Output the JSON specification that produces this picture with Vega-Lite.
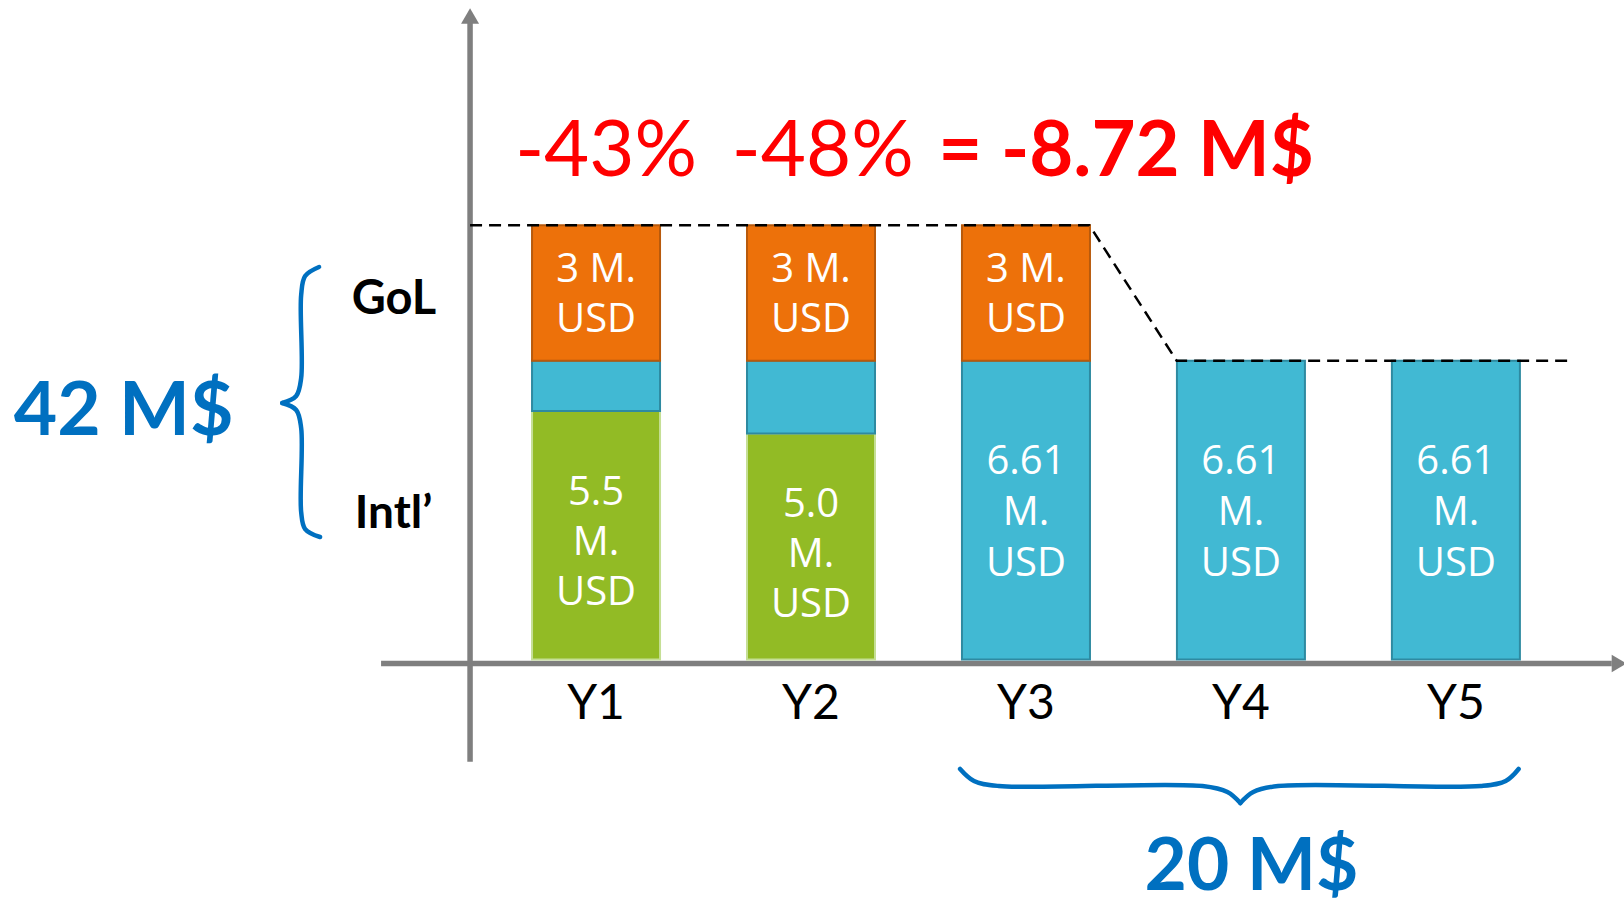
{
  "$schema": "https://vega.github.io/schema/vega-lite/v6.json",
  "width": 1624,
  "height": 906,
  "autosize": {"type": "none"},
  "padding": 0,
  "background": "white",
  "config": {"view": {"stroke": null}},
  "datasets": {
    "bars": [
      {"year": "Y1", "yi": 1, "seg": "Intl-1", "value": 5.5, "ord": 1, "label": "5.5\nM.\nUSD"},
      {"year": "Y1", "yi": 1, "seg": "Intl-2", "value": 1.11, "ord": 2, "label": ""},
      {"year": "Y1", "yi": 1, "seg": "GoL", "value": 3, "ord": 3, "label": "3 M.\nUSD"},
      {"year": "Y2", "yi": 2, "seg": "Intl-1", "value": 5.0, "ord": 1, "label": "5.0\nM.\nUSD"},
      {"year": "Y2", "yi": 2, "seg": "Intl-2", "value": 1.61, "ord": 2, "label": ""},
      {"year": "Y2", "yi": 2, "seg": "GoL", "value": 3, "ord": 3, "label": "3 M.\nUSD"},
      {"year": "Y3", "yi": 3, "seg": "Intl-2", "value": 6.61, "ord": 2, "label": "6.61\nM.\nUSD"},
      {"year": "Y3", "yi": 3, "seg": "GoL", "value": 3, "ord": 3, "label": "3 M.\nUSD"},
      {"year": "Y4", "yi": 4, "seg": "Intl-2", "value": 6.61, "ord": 2, "label": "6.61\nM.\nUSD"},
      {"year": "Y5", "yi": 5, "seg": "Intl-2", "value": 6.61, "ord": 2, "label": "6.61\nM.\nUSD"}
    ],
    "trend": [
      {"seq": 1, "x": 0.414, "y": 9.61},
      {"seq": 2, "x": 3.2945, "y": 9.61},
      {"seq": 3, "x": 3.701, "y": 6.61},
      {"seq": 4, "x": 5.519, "y": 6.61}
    ],
    "braces": [
      {"part": "L1", "seq": 1, "x": -0.2885, "y": 8.684},
      {"part": "L1", "seq": 2, "x": -0.3532, "y": 8.485},
      {"part": "L1", "seq": 3, "x": -0.3717, "y": 8.064},
      {"part": "L1", "seq": 4, "x": -0.3717, "y": 6.228},
      {"part": "L1", "seq": 5, "x": -0.3948, "y": 5.830},
      {"part": "L1", "seq": 6, "x": -0.4595, "y": 5.675},
      {"part": "L2", "seq": 1, "x": -0.4595, "y": 5.675},
      {"part": "L2", "seq": 2, "x": -0.3948, "y": 5.520},
      {"part": "L2", "seq": 3, "x": -0.3717, "y": 5.122},
      {"part": "L2", "seq": 4, "x": -0.3717, "y": 3.263},
      {"part": "L2", "seq": 5, "x": -0.3532, "y": 2.887},
      {"part": "L2", "seq": 6, "x": -0.2839, "y": 2.710},
      {"part": "B1", "seq": 1, "x": 2.6935, "y": -2.4226},
      {"part": "B1", "seq": 2, "x": 2.7582, "y": -2.688},
      {"part": "B1", "seq": 3, "x": 2.8738, "y": -2.7987},
      {"part": "B1", "seq": 4, "x": 3.8215, "y": -2.7987},
      {"part": "B1", "seq": 5, "x": 3.9371, "y": -2.9314},
      {"part": "B1", "seq": 6, "x": 3.9972, "y": -3.1748},
      {"part": "B2", "seq": 1, "x": 3.9972, "y": -3.1748},
      {"part": "B2", "seq": 2, "x": 4.0573, "y": -2.9314},
      {"part": "B2", "seq": 3, "x": 4.1729, "y": -2.7987},
      {"part": "B2", "seq": 4, "x": 5.1160, "y": -2.7987},
      {"part": "B2", "seq": 5, "x": 5.2316, "y": -2.688},
      {"part": "B2", "seq": 6, "x": 5.2917, "y": -2.4226}
    ]
  },
  "layer": [
    {
      "data": {"values": [{"axis": "y"}]},
      "mark": {"type": "rule", "color": "#7F7F7F", "strokeWidth": 5.5},
      "encoding": {
        "x": {"datum": 0.414, "type": "quantitative", "scale": {"domain": [-1.7494, 5.7587], "nice": false, "zero": false}, "axis": null},
        "y": {"datum": -2.261, "type": "quantitative", "scale": {"domain": [-5.4535, 14.5907], "nice": false, "zero": false}, "axis": null},
        "y2": {"datum": 14.1}
      }
    },
    {
      "data": {"values": [{"axis": "y"}]},
      "mark": {"type": "point", "shape": "triangle-up", "filled": true, "size": 324, "color": "#7F7F7F", "opacity": 1},
      "encoding": {
        "x": {"datum": 0.414, "type": "quantitative", "scale": {"domain": [-1.7494, 5.7587], "nice": false, "zero": false}, "axis": null},
        "y": {"datum": 14.237, "type": "quantitative", "scale": {"domain": [-5.4535, 14.5907], "nice": false, "zero": false}, "axis": null}
      }
    },
    {
      "data": {"values": [{"axis": "x"}]},
      "mark": {"type": "rule", "color": "#7F7F7F", "strokeWidth": 5.5},
      "encoding": {
        "x": {"datum": 0.0, "type": "quantitative", "scale": {"domain": [-1.7494, 5.7587], "nice": false, "zero": false}, "axis": null},
        "x2": {"datum": 5.725},
        "y": {"datum": -0.088, "type": "quantitative", "scale": {"domain": [-5.4535, 14.5907], "nice": false, "zero": false}, "axis": null}
      }
    },
    {
      "data": {"values": [{"axis": "x"}]},
      "mark": {"type": "point", "shape": "triangle-right", "filled": true, "size": 300, "color": "#7F7F7F", "opacity": 1},
      "encoding": {
        "x": {"datum": 5.7596, "type": "quantitative", "scale": {"domain": [-1.7494, 5.7587], "nice": false, "zero": false}, "axis": null},
        "y": {"datum": -0.088, "type": "quantitative", "scale": {"domain": [-5.4535, 14.5907], "nice": false, "zero": false}, "axis": null}
      }
    },
    {
      "data": {"name": "bars"},
      "transform": [
        {"stack": "value", "groupby": ["year"], "sort": [{"field": "ord", "order": "ascending"}], "as": ["v0", "v1"]}
      ],
      "mark": {"type": "bar", "width": 128, "strokeWidth": 2},
      "encoding": {
        "x": {"field": "yi", "type": "quantitative", "scale": {"domain": [-1.7494, 5.7587], "nice": false, "zero": false}, "axis": null},
        "y": {"field": "v0", "type": "quantitative", "scale": {"domain": [-5.4535, 14.5907], "nice": false, "zero": false}, "axis": null},
        "y2": {"field": "v1"},
        "fill": {"field": "seg", "type": "nominal", "scale": {"domain": ["Intl-1", "Intl-2", "GoL"], "range": ["#92BB25", "#41B9D3", "#ED710A"]}, "legend": null},
        "stroke": {"field": "seg", "type": "nominal", "scale": {"domain": ["Intl-1", "Intl-2", "GoL"], "range": ["#C5DF95", "#2E8AA1", "#B85A0C"]}, "legend": null}
      }
    },
    {
      "data": {"name": "bars"},
      "transform": [
        {"stack": "value", "groupby": ["year"], "sort": [{"field": "ord", "order": "ascending"}], "as": ["v0", "v1"]},
        {"filter": "datum.seg == 'GoL'"},
        {"fold": ["v0", "v1"], "as": ["edge", "pos"]}
      ],
      "mark": {"type": "text", "font": "Open Sans", "fontSize": 40, "lineHeight": 50, "lineBreak": "\n", "color": "white", "align": "center", "baseline": "middle", "dy": -23},
      "encoding": {
        "x": {"field": "yi", "type": "quantitative", "scale": {"domain": [-1.7494, 5.7587], "nice": false, "zero": false}, "axis": null},
        "y": {"aggregate": "mean", "field": "pos", "type": "quantitative", "scale": {"domain": [-5.4535, 14.5907], "nice": false, "zero": false}, "axis": null},
        "text": {"field": "label", "type": "nominal"},
        "detail": {"field": "seg", "type": "nominal"}
      }
    },
    {
      "data": {"name": "bars"},
      "transform": [
        {"stack": "value", "groupby": ["year"], "sort": [{"field": "ord", "order": "ascending"}], "as": ["v0", "v1"]},
        {"filter": "datum.seg == 'Intl-1'"},
        {"fold": ["v0", "v1"], "as": ["edge", "pos"]}
      ],
      "mark": {"type": "text", "font": "Open Sans", "fontSize": 40, "lineHeight": 50, "lineBreak": "\n", "color": "white", "align": "center", "baseline": "middle", "dy": -42},
      "encoding": {
        "x": {"field": "yi", "type": "quantitative", "scale": {"domain": [-1.7494, 5.7587], "nice": false, "zero": false}, "axis": null},
        "y": {"aggregate": "mean", "field": "pos", "type": "quantitative", "scale": {"domain": [-5.4535, 14.5907], "nice": false, "zero": false}, "axis": null},
        "text": {"field": "label", "type": "nominal"},
        "detail": {"field": "seg", "type": "nominal"}
      }
    },
    {
      "data": {"name": "bars"},
      "transform": [
        {"stack": "value", "groupby": ["year"], "sort": [{"field": "ord", "order": "ascending"}], "as": ["v0", "v1"]},
        {"filter": "datum.seg == 'Intl-2' && datum.label != ''"},
        {"fold": ["v0", "v1"], "as": ["edge", "pos"]}
      ],
      "mark": {"type": "text", "font": "Open Sans", "fontSize": 40, "lineHeight": 51, "lineBreak": "\n", "color": "white", "align": "center", "baseline": "middle", "dy": -48},
      "encoding": {
        "x": {"field": "yi", "type": "quantitative", "scale": {"domain": [-1.7494, 5.7587], "nice": false, "zero": false}, "axis": null},
        "y": {"aggregate": "mean", "field": "pos", "type": "quantitative", "scale": {"domain": [-5.4535, 14.5907], "nice": false, "zero": false}, "axis": null},
        "text": {"field": "label", "type": "nominal"},
        "detail": {"field": "seg", "type": "nominal"}
      }
    },
    {
      "data": {"name": "trend"},
      "mark": {"type": "line", "color": "black", "strokeWidth": 2.5, "strokeDash": [12, 7]},
      "encoding": {
        "x": {"field": "x", "type": "quantitative", "scale": {"domain": [-1.7494, 5.7587], "nice": false, "zero": false}, "axis": null},
        "y": {"field": "y", "type": "quantitative", "scale": {"domain": [-5.4535, 14.5907], "nice": false, "zero": false}, "axis": null},
        "order": {"field": "seq", "type": "quantitative"}
      }
    },
    {
      "data": {"name": "braces"},
      "mark": {"type": "line", "color": "#0070C0", "strokeWidth": 4.5, "strokeCap": "round", "interpolate": "catmull-rom"},
      "encoding": {
        "x": {"field": "x", "type": "quantitative", "scale": {"domain": [-1.7494, 5.7587], "nice": false, "zero": false}, "axis": null},
        "y": {"field": "y", "type": "quantitative", "scale": {"domain": [-5.4535, 14.5907], "nice": false, "zero": false}, "axis": null},
        "detail": {"field": "part", "type": "nominal"},
        "order": {"field": "seq", "type": "quantitative"}
      }
    },
    {
      "data": {"name": "bars"},
      "transform": [{"filter": "datum.ord == 2"}],
      "mark": {"type": "text", "font": "Lato", "fontSize": 48, "color": "black", "align": "center", "baseline": "alphabetic"},
      "encoding": {
        "x": {"field": "yi", "type": "quantitative", "scale": {"domain": [-1.7494, 5.7587], "nice": false, "zero": false}, "axis": null},
        "y": {"datum": -1.316, "type": "quantitative", "scale": {"domain": [-5.4535, 14.5907], "nice": false, "zero": false}, "axis": null},
        "text": {"field": "year", "type": "nominal"}
      }
    },
    {
      "data": {"values": [{"label": "-43%"}]},
      "mark": {"type": "text", "font": "Lato", "fontSize": 78, "color": "#FF0000", "align": "center", "baseline": "alphabetic"},
      "encoding": {
        "x": {"datum": 1.0469, "type": "quantitative", "scale": {"domain": [-1.7494, 5.7587], "nice": false, "zero": false}, "axis": null},
        "y": {"datum": 10.697, "type": "quantitative", "scale": {"domain": [-5.4535, 14.5907], "nice": false, "zero": false}, "axis": null},
        "text": {"field": "label", "type": "nominal"}
      }
    },
    {
      "data": {"values": [{"label": "-48%"}]},
      "mark": {"type": "text", "font": "Lato", "fontSize": 78, "color": "#FF0000", "align": "center", "baseline": "alphabetic"},
      "encoding": {
        "x": {"datum": 2.055, "type": "quantitative", "scale": {"domain": [-1.7494, 5.7587], "nice": false, "zero": false}, "axis": null},
        "y": {"datum": 10.697, "type": "quantitative", "scale": {"domain": [-5.4535, 14.5907], "nice": false, "zero": false}, "axis": null},
        "text": {"field": "label", "type": "nominal"}
      }
    },
    {
      "data": {"values": [{"label": "= -8.72 M$"}]},
      "mark": {"type": "text", "font": "Lato", "fontSize": 76, "fontWeight": "bold", "color": "#FF0000", "align": "center", "baseline": "alphabetic"},
      "encoding": {
        "x": {"datum": 3.466, "type": "quantitative", "scale": {"domain": [-1.7494, 5.7587], "nice": false, "zero": false}, "axis": null},
        "y": {"datum": 10.697, "type": "quantitative", "scale": {"domain": [-5.4535, 14.5907], "nice": false, "zero": false}, "axis": null},
        "text": {"field": "label", "type": "nominal"}
      }
    },
    {
      "data": {"values": [{"label": "42 M$"}]},
      "mark": {"type": "text", "font": "Lato", "fontSize": 75, "fontWeight": "bold", "color": "#0070C0", "align": "center", "baseline": "alphabetic"},
      "encoding": {
        "x": {"datum": -1.1977, "type": "quantitative", "scale": {"domain": [-1.7494, 5.7587], "nice": false, "zero": false}, "axis": null},
        "y": {"datum": 4.967, "type": "quantitative", "scale": {"domain": [-5.4535, 14.5907], "nice": false, "zero": false}, "axis": null},
        "text": {"field": "label", "type": "nominal"}
      }
    },
    {
      "data": {"values": [{"label": "20 M$"}]},
      "mark": {"type": "text", "font": "Lato", "fontSize": 73, "fontWeight": "bold", "color": "#0070C0", "align": "center", "baseline": "alphabetic"},
      "encoding": {
        "x": {"datum": 4.0489, "type": "quantitative", "scale": {"domain": [-1.7494, 5.7587], "nice": false, "zero": false}, "axis": null},
        "y": {"datum": -5.11, "type": "quantitative", "scale": {"domain": [-5.4535, 14.5907], "nice": false, "zero": false}, "axis": null},
        "text": {"field": "label", "type": "nominal"}
      }
    },
    {
      "data": {"values": [{"label": "GoL"}]},
      "mark": {"type": "text", "font": "Lato", "fontSize": 47, "fontWeight": "bold", "color": "black", "align": "center", "baseline": "alphabetic"},
      "encoding": {
        "x": {"datum": 0.0602, "type": "quantitative", "scale": {"domain": [-1.7494, 5.7587], "nice": false, "zero": false}, "axis": null},
        "y": {"datum": 7.644, "type": "quantitative", "scale": {"domain": [-5.4535, 14.5907], "nice": false, "zero": false}, "axis": null},
        "text": {"field": "label", "type": "nominal"}
      }
    },
    {
      "data": {"values": [{"label": "Intl’"}]},
      "mark": {"type": "text", "font": "Lato", "fontSize": 46, "fontWeight": "bold", "color": "black", "align": "center", "baseline": "alphabetic"},
      "encoding": {
        "x": {"datum": 0.0579, "type": "quantitative", "scale": {"domain": [-1.7494, 5.7587], "nice": false, "zero": false}, "axis": null},
        "y": {"datum": 2.909, "type": "quantitative", "scale": {"domain": [-5.4535, 14.5907], "nice": false, "zero": false}, "axis": null},
        "text": {"field": "label", "type": "nominal"}
      }
    }
  ]
}
